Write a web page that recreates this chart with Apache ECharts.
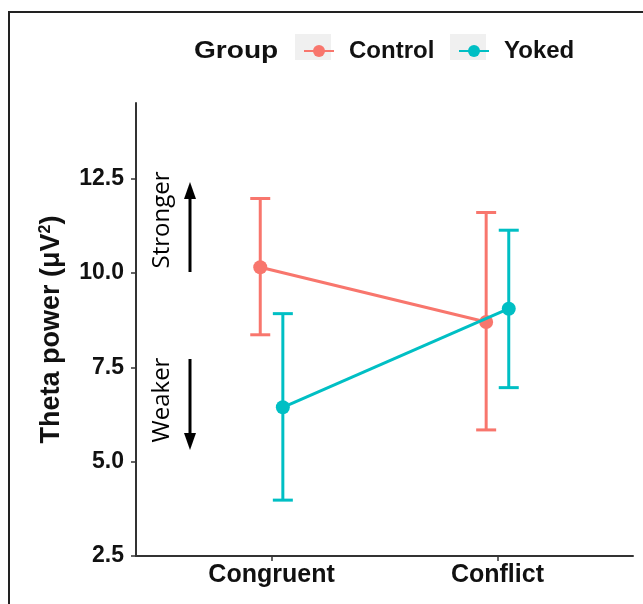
<!DOCTYPE html>
<html>
<head>
<meta charset="utf-8">
<script src="https://cdn.jsdelivr.net/npm/echarts@6/dist/echarts.min.js"></script>
<style>
html,body{margin:0;padding:0;background:#fff;}
#chart{width:643px;height:604px;}
</style>
</head>
<body>
<div id="chart"></div>
<script>
const categories = ['Congruent', 'Conflict'];
const groups = ['Control', 'Yoked'];
const controlMean = [10.15, 8.70];
const controlLow = [8.36, 5.84];
const controlHigh = [11.97, 11.60];
const yokedMean = [6.44, 9.05];
const yokedLow = [3.98, 6.96];
const yokedHigh = [8.92, 11.13];
const yTicks = [2.5, 5.0, 7.5, 10.0, 12.5];

const colors = { Control: '#F8766D', Yoked: '#00BFC4' };
const dodge = { Control: -0.05, Yoked: 0.05 };
const FONT = '"Liberation Sans", Arial, Helvetica, sans-serif';

function pts(mean, g) {
  return mean.map((v, i) => [i + 1 + dodge[g], v]);
}
function bars(lo, hi, g) {
  return lo.map((v, i) => [i + 1 + dodge[g], v, hi[i]]);
}
function errRender(color) {
  return function (params, api) {
    const x = api.value(0);
    const pLo = api.coord([x, api.value(1)]);
    const pHi = api.coord([x, api.value(2)]);
    const hw = 10;
    const st = { stroke: color, lineWidth: 3, fill: null };
    return {
      type: 'group',
      children: [
        { type: 'line', shape: { x1: pLo[0], y1: pLo[1], x2: pHi[0], y2: pHi[1] }, style: st },
        { type: 'line', shape: { x1: pHi[0] - hw, y1: pHi[1], x2: pHi[0] + hw, y2: pHi[1] }, style: st },
        { type: 'line', shape: { x1: pLo[0] - hw, y1: pLo[1], x2: pLo[0] + hw, y2: pLo[1] }, style: st }
      ]
    };
  };
}

const chart = echarts.init(document.getElementById('chart'), null, { renderer: 'canvas' });

const legendCommon = {
  top: 34,
  itemWidth: 30,
  itemHeight: 15,
  textStyle: { fontFamily: FONT, fontWeight: 'bold', fontSize: 24, color: '#111', padding: [0, 0, 0, 10] }
};

chart.setOption({
  backgroundColor: '#ffffff',
  animation: false,
  grid: { left: 136, right: 10, top: 103, bottom: 48 },
  legend: [
    Object.assign({ left: 298, data: ['Control'] }, legendCommon),
    Object.assign({ left: 453, data: ['Yoked'] }, legendCommon)
  ],
  xAxis: {
    type: 'value',
    min: 0.4,
    max: 2.6,
    splitLine: { show: false },
    axisLine: { show: true, onZero: false, lineStyle: { color: '#333', width: 2 } },
    axisTick: { show: true, customValues: [1, 2], length: 5, lineStyle: { color: '#333', width: 1.5 } },
    axisLabel: {
      customValues: [1, 2],
      formatter: v => categories[Math.round(v) - 1] || '',
      margin: 7,
      fontFamily: FONT, fontWeight: 'bold', fontSize: 25, color: '#111'
    }
  },
  yAxis: {
    type: 'value',
    min: 2.5,
    max: 14.5,
    splitLine: { show: false },
    axisLine: { show: true, onZero: false, lineStyle: { color: '#333', width: 2 } },
    axisTick: { show: true, customValues: yTicks, length: 5, lineStyle: { color: '#333', width: 1.5 } },
    axisLabel: {
      customValues: yTicks,
      formatter: v => v.toFixed(1),
      margin: 12,
      fontFamily: FONT, fontWeight: 'bold', fontSize: 23, color: '#111'
    },
    name: 'Theta power (\u03bcV{sup|2})',
    nameLocation: 'middle',
    nameGap: 70,
    nameTextStyle: {
      fontFamily: FONT, fontWeight: 'bold', fontSize: 27, color: '#111',
      rich: { sup: { fontFamily: FONT, fontWeight: 'bold', fontSize: 16, color: '#111', verticalAlign: 'top', padding: [0, 0, 12, 0] } }
    }
  },
  series: [
    { name: 'Control SE', type: 'custom', renderItem: errRender(colors.Control), data: bars(controlLow, controlHigh, 'Control'), z: 2, itemStyle: { color: colors.Control } },
    { name: 'Yoked SE', type: 'custom', renderItem: errRender(colors.Yoked), data: bars(yokedLow, yokedHigh, 'Yoked'), z: 2, itemStyle: { color: colors.Yoked } },
    {
      name: 'Control', type: 'line', data: pts(controlMean, 'Control'),
      symbol: 'circle', symbolSize: 14, z: 3,
      itemStyle: { color: colors.Control },
      lineStyle: { color: colors.Control, width: 3 }
    },
    {
      name: 'Yoked', type: 'line', data: pts(yokedMean, 'Yoked'),
      symbol: 'circle', symbolSize: 14, z: 4,
      itemStyle: { color: colors.Yoked },
      lineStyle: { color: colors.Yoked, width: 3 }
    }
  ],
  graphic: [
    { type: 'polyline', shape: { points: [[9, 604], [9, 12], [643, 12]] }, style: { stroke: '#222', lineWidth: 2, fill: null } },
    { type: 'rect', shape: { x: 295, y: 34, width: 36, height: 26 }, style: { fill: '#f0f0f0' }, z: -1 },
    { type: 'rect', shape: { x: 450, y: 34, width: 36, height: 26 }, style: { fill: '#f0f0f0' }, z: -1 },
    { type: 'text', x: 194, y: 51, scaleX: 1.17, style: { text: 'Group', font: 'bold 24px ' + FONT, fill: '#111', align: 'left', verticalAlign: 'middle' } },
    { type: 'text', x: 162, y: 220, rotation: Math.PI / 2, style: { text: 'Stronger', font: '24px "Open Sans", sans-serif', fill: '#000', align: 'center', verticalAlign: 'middle' } },
    { type: 'text', x: 162, y: 400, rotation: Math.PI / 2, style: { text: 'Weaker', font: '24px "Open Sans", sans-serif', fill: '#000', align: 'center', verticalAlign: 'middle' } },
    { type: 'line', shape: { x1: 190, y1: 272, x2: 190, y2: 196 }, style: { stroke: '#000', lineWidth: 3 } },
    { type: 'polygon', shape: { points: [[184, 199], [196, 199], [190, 182]] }, style: { fill: '#000' } },
    { type: 'line', shape: { x1: 190, y1: 359, x2: 190, y2: 436 }, style: { stroke: '#000', lineWidth: 3 } },
    { type: 'polygon', shape: { points: [[184, 433], [196, 433], [190, 450]] }, style: { fill: '#000' } }
  ]
});
</script>
</body>
</html>
